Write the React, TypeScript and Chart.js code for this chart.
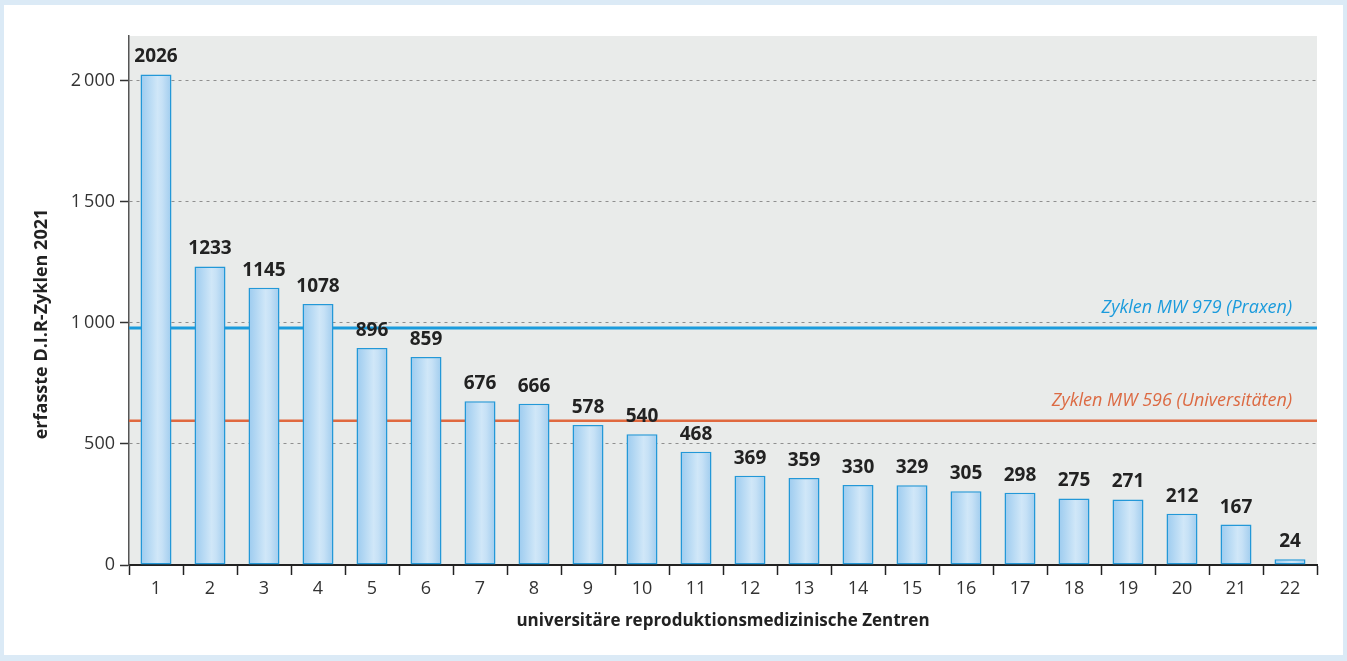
import React, { useEffect, useRef } from "react";
import { Chart, registerables } from "chart.js";

Chart.register(...registerables);

const categories = ["1","2","3","4","5","6","7","8","9","10","11","12","13","14","15","16","17","18","19","20","21","22"];
const cycles = [2026,1233,1145,1078,896,859,676,666,578,540,468,369,359,330,329,305,298,275,271,212,167,24];
const yTickValues = [0, 500, 1000, 1500, 2000];
const yTickLabels = ["0", "500", "1\u2009000", "1\u2009500", "2\u2009000"];
const meanPraxen = 979;
const meanUni = 596;
const meanPraxenLabel = "Zyklen MW 979 (Praxen)";
const meanUniLabel = "Zyklen MW 596 (Universitäten)";
const yTitle = "erfasste D.I.R-Zyklen 2021";
const xTitle = "universitäre reproduktionsmedizinische Zentren";

const FONT = "'Open Sans', 'Noto Sans', sans-serif";

const framePlugin = {
  id: "frame",
  beforeDraw(chart: any) {
    const { ctx, width, height, chartArea } = chart;
    ctx.save();
    ctx.fillStyle = "#dbeaf6";
    ctx.fillRect(0, 0, width, height);
    ctx.fillStyle = "#ffffff";
    ctx.fillRect(4, 5, width - 8, height - 11);
    ctx.fillStyle = "#e9ebea";
    ctx.fillRect(chartArea.left, chartArea.top, chartArea.right - chartArea.left, chartArea.bottom - chartArea.top);
    ctx.restore();
  },
};

const meanPlugin = {
  id: "means",
  beforeDatasetsDraw(chart: any) {
    const { ctx, chartArea, scales } = chart;
    const y = scales.y;
    const items = [
      { v: meanPraxen, label: meanPraxenLabel, color: "#1b9bdc", text: "#1b9bdc", w: 3 },
      { v: meanUni, label: meanUniLabel, color: "#e0693f", text: "#dc6a43", w: 2.5 },
    ];
    ctx.save();
    for (const it of items) {
      const py = y.getPixelForValue(it.v);
      ctx.strokeStyle = it.color;
      ctx.lineWidth = it.w;
      ctx.beginPath();
      ctx.moveTo(chartArea.left, py);
      ctx.lineTo(chartArea.right, py);
      ctx.stroke();
      ctx.fillStyle = it.text;
      ctx.font = `italic 18px ${FONT}`;
      ctx.textAlign = "right";
      ctx.textBaseline = "alphabetic";
      ctx.fillText(it.label, chartArea.right - 25, py - 15);
    }
    ctx.restore();
  },
};

const labelPlugin = {
  id: "valueLabels",
  afterDatasetsDraw(chart: any) {
    const { ctx } = chart;
    const meta = chart.getDatasetMeta(0);
    ctx.save();
    ctx.fillStyle = "#222222";
    ctx.font = `bold 19px ${FONT}`;
    ctx.textAlign = "center";
    ctx.textBaseline = "alphabetic";
    meta.data.forEach((bar: any, i: number) => {
      ctx.fillText(String(cycles[i]), bar.x, bar.y - 12);
    });
    ctx.restore();
  },
};

const yTitlePlugin = {
  id: "yTitle",
  afterDraw(chart: any) {
    const { ctx } = chart;
    ctx.save();
    ctx.translate(42, 324);
    ctx.rotate(-Math.PI / 2);
    ctx.fillStyle = "#222222";
    ctx.font = `bold 18px ${FONT}`;
    ctx.textAlign = "center";
    ctx.textBaseline = "middle";
    ctx.fillText(yTitle, 0, 0);
    ctx.restore();
  },
};

export default function App() {
  const ref = useRef<HTMLCanvasElement | null>(null);
  useEffect(() => {
    document.body.style.margin = "0";
    const canvas = ref.current!;
    const chart = new Chart(canvas, {
      type: "bar",
      data: {
        labels: categories,
        datasets: [
          {
            data: cycles,
            backgroundColor: (c: any) => {
              const ch = c.chart;
              const xs = ch.scales && ch.scales.x;
              if (!xs || !ch.chartArea) return "#b5daf3";
              const cx = xs.getPixelForValue(c.dataIndex);
              const w = (xs.width / categories.length) * 0.574;
              const g = ch.ctx.createLinearGradient(cx - w / 2, 0, cx + w / 2, 0);
              g.addColorStop(0, "#9ccbef");
              g.addColorStop(0.55, "#d0e7f8");
              g.addColorStop(0.7, "#c6e1f6");
              g.addColorStop(1, "#9fccee");
              return g;
            },
            borderColor: "#2398d8",
            borderWidth: 1.5,
            borderSkipped: false,
            categoryPercentage: 1,
            barPercentage: 0.574,
          },
        ],
      },
      options: {
        responsive: false,
        animation: false,
        layout: { padding: { left: 0, right: 30, top: 36, bottom: 26 } },
        plugins: { legend: { display: false }, tooltip: { enabled: false } },
        scales: {
          x: {
            grid: {
              offset: true,
              drawOnChartArea: false,
              drawTicks: true,
              tickLength: 10,
              tickColor: "#222222",
              tickWidth: 1.5,
              tickBorderDash: [],
            } as any,
            border: { color: "#222222", width: 2 },
            ticks: {
              color: "#333333",
              font: { family: FONT, size: 18 },
              padding: 3,
              maxRotation: 0,
              autoSkip: false,
            },
            title: {
              display: true,
              text: xTitle,
              color: "#222222",
              font: { family: FONT, size: 17, weight: "bold" },
              padding: { top: 0, bottom: 4 },
            },
            afterFit: (s: any) => { s.height = 70; },
          },
          y: {
            min: 0,
            max: 2185,
            afterBuildTicks: (s: any) => { s.ticks = yTickValues.map((v) => ({ value: v })); },
            grid: {
              color: "#8f8f8f",
              lineWidth: 1,
              tickBorderDash: [],
              tickColor: "#333333",
              tickLength: 9,
              tickWidth: 1.5,
            } as any,
            border: { color: "#555555", width: 1.5, dash: [3, 4] } as any,
            ticks: {
              color: "#333333",
              font: { family: FONT, size: 18 },
              padding: 5,
              callback: (v: any) => {
                const i = yTickValues.indexOf(Number(v));
                return i >= 0 ? yTickLabels[i] : "";
              },
            },
            afterFit: (s: any) => { s.width = 129; },
          },
        },
      },
      plugins: [framePlugin, meanPlugin, labelPlugin, yTitlePlugin],
    });
    return () => chart.destroy();
  }, []);
  return (
    <div style={{ position: "fixed", left: 0, top: 0, width: 1347, height: 661 }}>
      <canvas ref={ref} width={1347} height={661} style={{ width: 1347, height: 661, display: "block" }} />
    </div>
  );
}
